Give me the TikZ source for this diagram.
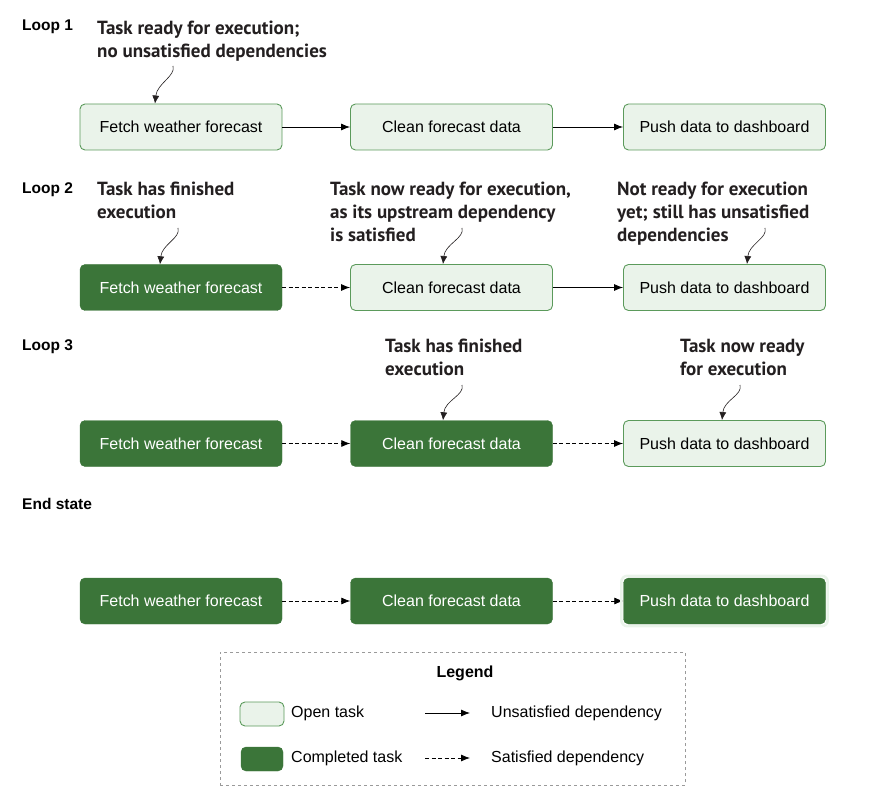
\documentclass[tikz,border=0pt]{standalone}
\usepackage{fontspec}
\setmainfont{Liberation Sans}
\newfontfamily\notefont{PT Sans}
\usetikzlibrary{arrows.meta}
\definecolor{openfill}{HTML}{EAF3EA}
\definecolor{openline}{HTML}{5B9A5B}
\definecolor{donefill}{HTML}{3B7539}
\definecolor{noteink}{HTML}{231F20}
\definecolor{framegray}{HTML}{9A9A9A}
\tikzset{
  task/.style={rectangle, rounded corners=5pt, minimum width=202pt, minimum height=46pt,
    inner sep=0pt, font=\fontsize{16}{19}\selectfont},
  opentask/.style={task, draw=openline, fill=openfill, line width=0.9pt},
  donetask/.style={task, draw=donefill, fill=donefill, text=white},
  todo/.style={-{Latex[length=9pt,width=7pt]}, line width=0.8pt},
  sat/.style={todo, dash pattern=on 4pt off 2.5pt},
  notearrow/.style={-{Latex[length=8pt,width=7pt]}, line width=0.6pt, noteink},
  notetext/.style={anchor=north west, align=left, inner sep=0pt, text=noteink,
    font=\notefont\bfseries\fontsize{19}{23}\selectfont},
  looplabel/.style={anchor=base west, inner sep=0pt, font=\bfseries\fontsize{15.5}{18}\selectfont},
  legtext/.style={anchor=west, inner sep=0pt, font=\fontsize{16}{19}\selectfont}
}
\begin{document}
\begin{tikzpicture}[x=1pt,y=-1pt]
\useasboundingbox (0,0) rectangle (889,802);
\node[looplabel] (l1) at (22,31) {Loop 1};
\node[looplabel] (l2) at (22,194) {Loop 2};
\node[looplabel] (l3) at (22,351) {Loop 3};
\node[looplabel] (l4) at (22,509) {End state};
\foreach \r/\y/\sa/\sb/\sc/\ea/\eb in {1/127/opentask/opentask/opentask/todo/todo,
    2/287.5/donetask/opentask/opentask/sat/todo,
    3/443.5/donetask/donetask/opentask/sat/sat,
    4/601/donetask/donetask/donetask/sat/sat} {
  \node[\sa] (f\r) at (181,\y) {Fetch weather forecast};
  \node[\sb] (c\r) at (451.5,\y) {Clean forecast data};
  \node[\sc] (p\r) at (724.5,\y) {Push data to dashboard};
  \draw[\ea] (f\r) -- (c\r);
  \draw[\eb] (c\r) -- (p\r);
}
\draw[openfill, line width=2.5pt, rounded corners=6pt] ([shift={(-2,-2)}]p4.north west) rectangle ([shift={(2,2)}]p4.south east);

\node[notetext] (n1) at (97,21) {Task ready for execution;\\no unsatisfied dependencies};
\node[notetext] (n2a) at (97,182) {Task has finished\\execution};
\node[notetext] (n2b) at (330,182) {Task now ready for execution,\\as its upstream dependency\\is satisfied};
\node[notetext] (n2c) at (617,182) {Not ready for execution\\yet; still has unsatisfied\\dependencies};
\node[notetext] (n3a) at (385,339) {Task has finished\\execution};
\node[notetext] (n3b) at (680,339) {Task now ready\\for execution};
\coordinate (s1) at (173,66);
\coordinate (s2a) at (178,228);
\coordinate (s2b) at (462,228);
\coordinate (s2c) at (765,228);
\coordinate (s3a) at (462,385);
\coordinate (s3b) at (740,385);
\draw[notearrow] (s1) .. controls +(3,10) and +(2,-20) .. ([xshift=-26pt]f1.north);
\draw[notearrow] (s2a) .. controls +(3,10) and +(2,-20) .. ([xshift=-21pt]f2.north);
\draw[notearrow] (s2b) .. controls +(3,10) and +(2,-20) .. ([xshift=-8.5pt]c2.north);
\draw[notearrow] (s2c) .. controls +(3,10) and +(2,-20) .. ([xshift=22.5pt]p2.north);
\draw[notearrow] (s3a) .. controls +(3,10) and +(2,-20) .. ([xshift=-8.5pt]c3.north);
\draw[notearrow] (s3b) .. controls +(3,10) and +(2,-20) .. ([xshift=-2.5pt]p3.north);

\node[draw=framegray, dashed, line width=0.8pt, minimum width=465pt, minimum height=133pt, inner sep=0pt] (legend) at (452.5,718.5) {};
\node[font=\bfseries\fontsize{16}{19}\selectfont] (legtitle) at (465,673) {Legend};
\node[opentask, minimum width=44pt, minimum height=24pt] (swopen) at (262,714) {};
\node[donetask, minimum width=42pt, minimum height=24pt] (swdone) at (262,759) {};
\node[legtext] (lopen) at (291,713) {Open task};
\node[legtext] (ldone) at (291,758) {Completed task};
\coordinate (ua) at (425,713);
\coordinate (ub) at (470,713);
\coordinate (sa) at (425,758);
\coordinate (sb) at (470,758);
\draw[todo] (ua) -- (ub);
\draw[sat] (sa) -- (sb);
\node[legtext] (lunsat) at (491,713) {Unsatisfied dependency};
\node[legtext] (lsat) at (491,758) {Satisfied dependency};
\end{tikzpicture}
\end{document}
